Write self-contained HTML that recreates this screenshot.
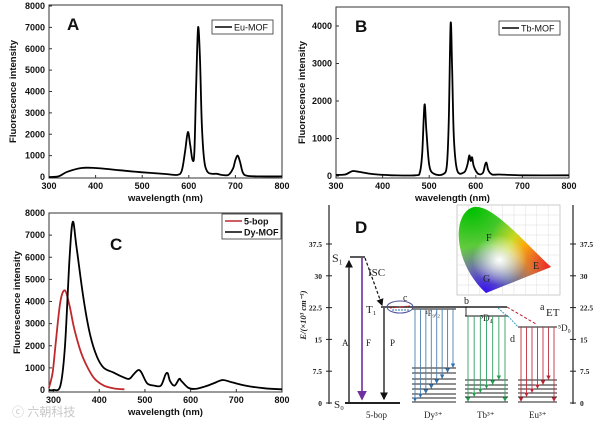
<!DOCTYPE html>
<html><head><meta charset="utf-8">
<style>
html,body{margin:0;padding:0;background:#fff;width:600px;height:423px;overflow:hidden}
svg text{font-family:"Liberation Sans",Arial,sans-serif}
.tk{font-size:9px;font-weight:bold;fill:#111}
.al{font-size:9.5px;font-weight:bold;fill:#111}
.sr{font-family:"Liberation Serif",serif !important;fill:#222}
</style></head>
<body>
<svg id="fig" width="600" height="423" viewBox="0 0 600 423" xmlns="http://www.w3.org/2000/svg">
<defs>
<radialGradient id="gG" cx="0.2" cy="0.1" r="0.6"><stop offset="0" stop-color="#00c000"/><stop offset="1" stop-color="#00c000" stop-opacity="0"/></radialGradient>
<radialGradient id="gB" cx="0.3" cy="0.95" r="0.5"><stop offset="0" stop-color="#3000ff"/><stop offset="1" stop-color="#3000ff" stop-opacity="0"/></radialGradient>
<radialGradient id="gR" cx="1" cy="0.65" r="0.5"><stop offset="0" stop-color="#ff0020"/><stop offset="1" stop-color="#ff0020" stop-opacity="0"/></radialGradient>
<radialGradient id="gY" cx="0.7" cy="0.45" r="0.35"><stop offset="0" stop-color="#ffe000"/><stop offset="1" stop-color="#ffe000" stop-opacity="0"/></radialGradient>
<radialGradient id="gW" cx="0.45" cy="0.6" r="0.25"><stop offset="0" stop-color="#fff"/><stop offset="1" stop-color="#fff" stop-opacity="0"/></radialGradient>
<clipPath id="cie"><path d="M486,293 C452,262 452,212 474,207 C492,204 522,240 551,267 Z"/></clipPath>
<marker id="ak" markerWidth="6" markerHeight="6" refX="5" refY="3" orient="auto"><path d="M0,0 L6,3 L0,6 Z" fill="#111"/></marker>
<marker id="ap" markerWidth="6" markerHeight="6" refX="5" refY="3" orient="auto"><path d="M0,0 L6,3 L0,6 Z" fill="#7030a0"/></marker>
<marker id="ab" markerWidth="5" markerHeight="5" refX="4" refY="2.5" orient="auto"><path d="M0,0 L5,2.5 L0,5 Z" fill="#3070b0"/></marker>
<marker id="ag" markerWidth="5" markerHeight="5" refX="4" refY="2.5" orient="auto"><path d="M0,0 L5,2.5 L0,5 Z" fill="#20a050"/></marker>
<marker id="ar" markerWidth="5" markerHeight="5" refX="4" refY="2.5" orient="auto"><path d="M0,0 L5,2.5 L0,5 Z" fill="#c02030"/></marker>
</defs>
<g id="panels"></g>
<g id="diagram"></g>
<text x="12" y="416" font-size="12" fill="#c8c8c8" style="font-family:'Liberation Sans','Noto Sans CJK SC',sans-serif">ⓒ 六朝科技</text>
</svg>
<script>
// ---- data ----
const euWl = [300,320,340,370,400,450,500,550,575,585,592,598,603,608,612,616,620,624,628,633,640,650,660,670,685,695,700,705,710,716,725,750,800];
const euVal = [0,30,250,420,420,320,220,140,100,300,1200,2100,1500,800,1200,4500,7000,5500,2500,800,250,150,150,100,100,400,800,1000,700,200,60,30,30];
const tbWl = [300,320,335,350,380,420,470,480,485,490,494,500,510,530,538,542,546,549,553,560,575,582,586,589,592,596,605,615,620,623,627,635,650,700,800];
const tbVal = [30,40,130,110,50,20,20,100,600,1900,1200,300,60,50,300,1500,4050,3000,1000,150,100,300,550,400,500,250,60,80,300,350,150,40,40,20,20];
const dyWl = [290,300,315,325,335,342,350,365,380,395,410,430,450,465,475,485,492,505,520,535,545,550,555,565,575,580,595,610,630,650,670,690,720,760,800];
const dyVal = [0,0,200,2000,6000,7600,6500,4200,2500,1500,1000,800,600,500,700,900,800,300,200,200,700,750,400,200,500,400,100,50,150,300,450,350,200,80,30];
const bopWl = [290,298,305,315,325,335,345,360,375,390,410,430,455];
const bopVal = [100,800,2200,4000,4500,3800,2800,1700,1000,500,200,80,30];
const xTicks = [300,400,500,600,700,800];
const yTicksA = [0,1000,2000,3000,4000,5000,6000,7000,8000];
const yTicksB = [0,1000,2000,3000,4000];
const yTicksC = [0,1000,2000,3000,4000,5000,6000,7000,8000];
const eTicks = [0,7.5,15,22.5,30,37.5];
const eTickLabels = ["0","7.5","15","22.5","30","37.5"];

const NS="http://www.w3.org/2000/svg";
function mk(tag,attrs,parent,txt){const e=document.createElementNS(NS,tag);for(const k in attrs)e.setAttribute(k,attrs[k]);if(txt!==undefined)e.textContent=txt;parent.appendChild(e);return e;}
const root=document.getElementById('panels');

function smooth(pts){
  let d='M'+pts[0][0].toFixed(1)+','+pts[0][1].toFixed(1);
  for(let i=0;i<pts.length-1;i++){
    const p0=pts[Math.max(0,i-1)],p1=pts[i],p2=pts[i+1],p3=pts[Math.min(pts.length-1,i+2)];
    const c1=[p1[0]+(p2[0]-p0[0])/6,p1[1]+(p2[1]-p0[1])/6];
    const c2=[p2[0]-(p3[0]-p1[0])/6,p2[1]-(p3[1]-p1[1])/6];
    d+=` C${c1[0].toFixed(1)},${c1[1].toFixed(1)} ${c2[0].toFixed(1)},${c2[1].toFixed(1)} ${p2[0].toFixed(1)},${p2[1].toFixed(1)}`;
  }
  return d;
}

function panel(id,box,xr,yr,yTicks,series,label,labelPos,legend){
  const g=mk('g',{},root);
  
  
  const sx=v=>box.x0+(v-xr[0])/(xr[1]-xr[0])*(box.x1-box.x0);
  const sy=v=>box.yb-(v-yr[0])/(yr[1]-yr[0])*(box.yb-box.yt);
  const fr=mk('rect',{x:box.x0,y:box.top,width:box.x1-box.x0,height:box.bot-box.top,fill:'none',stroke:'#333','stroke-width':1},g);
  
  
  xTicks.forEach(t=>{const x=sx(t);mk('line',{x1:x,x2:x,y1:box.bot,y2:box.bot-3,stroke:'#333'},g);
    const tx=mk('text',{x:x,y:box.bot+11,'text-anchor':'middle',class:'tk'},g,t);
    
    });
  yTicks.forEach(t=>{const y=sy(t);mk('line',{x1:box.x0,x2:box.x0+3,y1:y,y2:y,stroke:'#333'},g);
    const tx=mk('text',{x:box.x0-4,y:y+3,'text-anchor':'end',class:'tk'},g,t);
    
    });
  const xl=mk('text',{x:(box.x0+box.x1)/2,y:box.bot+23,'text-anchor':'middle',class:'al'},g,'wavelength (nm)');
  
  
  const yl=mk('text',{x:0,y:0,'text-anchor':'middle',class:'al',transform:`translate(${box.yl},${(box.top+box.bot)/2}) rotate(-90)`},g,'Fluorescence intensity');
  
  
  series.forEach(s=>{
    const pts=s.wl.map((w,i)=>[sx(w),sy(s.val[i])]);
    const p=mk('path',{d:smooth(pts),fill:'none',stroke:s.color,'stroke-width':1.8,'stroke-linejoin':'round'},g);
    
    
  });
  const pl=mk('text',{x:labelPos[0],y:labelPos[1],'font-size':17,'font-weight':'bold',fill:'#111'},g,label);
  
  
  const lg=mk('g',{},g);
  
  
  mk('rect',{x:legend.x,y:legend.y,width:legend.w,height:legend.items.length*11+3,fill:'#fff',stroke:'#333','stroke-width':0.8},lg);
  legend.items.forEach((it,i)=>{const y=legend.y+7+i*11;
    mk('line',{x1:legend.x+3,x2:legend.x+20,y1:y,y2:y,stroke:it.c,'stroke-width':1.6},lg);
    const t=mk('text',{x:legend.x+22,y:y+3.5,'font-size':9,fill:'#111','font-weight':it.b?'bold':'normal'},lg,it.t);
    
    });
}
panel('A',{x0:49,x1:282,top:5,bot:178,yt:6,yb:177,yl:16},[300,800],[0,8000],yTicksA,
  [{name:'eu-mof',wl:euWl,val:euVal,color:'#000'}],'A',[67,30],{x:212,y:20,w:61,items:[{c:'#000',t:'Eu-MOF'}]});
panel('B',{x0:336,x1:569,top:7,bot:178,yt:26,yb:176,yl:305},[300,800],[0,4000],yTicksB,
  [{name:'tb-mof',wl:tbWl,val:tbVal,color:'#000'}],'B',[355,32],{x:499,y:21,w:61,items:[{c:'#000',t:'Tb-MOF'}]});
panel('C',{x0:49,x1:282,top:213,bot:392,yt:213,yb:390,yl:20},[290,800],[0,8000],yTicksC,
  [{name:'5-bop',wl:bopWl,val:bopVal,color:'#c0282c'},{name:'dy-mof',wl:dyWl,val:dyVal,color:'#000'}],'C',[110,250],{x:222,y:214,w:59,items:[{c:'#c0282c',t:'5-bop',b:true},{c:'#000',t:'Dy-MOF',b:true}]});

// ---- diagram D ----
const D=document.getElementById('diagram');
const ey=e=>403-e*4.24;
const ax=mk('line',{x1:329,x2:329,y1:205,y2:404,stroke:'#222','stroke-width':1.2},D);


const ax2=mk('line',{x1:573,x2:573,y1:205,y2:404,stroke:'#222','stroke-width':1.2},D);


eTicks.forEach((t,i)=>{const y=ey(t);
  mk('line',{x1:326,x2:332,y1:y,y2:y,stroke:'#222'},D);mk('line',{x1:570,x2:576,y1:y,y2:y,stroke:'#222'},D);
  const a=mk('text',{x:322,y:y+3,'text-anchor':'end','font-size':7.5,'font-weight':'bold',class:'sr'},D,eTickLabels[i]);
  
  
  const b=mk('text',{x:580,y:y+3,'font-size':7.5,'font-weight':'bold',class:'sr'},D,eTickLabels[i]);
  
  });
const et=mk('text',{x:0,y:0,'text-anchor':'middle','font-size':8.5,'font-weight':'bold','font-style':'italic',class:'sr',transform:'translate(306,315) rotate(-90)'},D,'E/(×10³ cm⁻¹)');


const pd=mk('text',{x:355,y:233,'font-size':17,'font-weight':'bold',fill:'#111'},D,'D');


function L(x1,y1,x2,y2,c,w,extra){const e=mk('line',Object.assign({x1,y1,x2,y2,stroke:c,'stroke-width':w||1},extra||{}),D);return e;}
function T(x,y,s,fs,name){const t=mk('text',{x,y,'font-size':fs||10,class:'sr'},D,s);return t;}
// levels
L(345,403,400,403,'#222',2);L(350,257,365,257,'#222',1.5);L(381,307,507,307,'#222',1.5);
L(349,402,349,261,'#111',1.3,{'marker-end':'url(#ak)'});
L(362,258,362,399,'#7030a0',1.6,{'marker-end':'url(#ap)'});
L(365,258,382,305,'#111',1.2,{'stroke-dasharray':'3,2','marker-end':'url(#ak)'});
L(384,308,384,399,'#111',1.3,{'marker-end':'url(#ak)'});
mk('ellipse',{cx:400,cy:307,rx:13,ry:6,fill:'none',stroke:'#5050a0','stroke-width':1},D);
L(390,308,410,306,'#c02030',1,{'stroke-dasharray':'2,1'});L(392,310,410,310,'#3070b0',1,{'stroke-dasharray':'2,1'});
T(332,262,'S₁',12,'s1-label');T(334,408,'S₀',11,'s0-label');T(368,276,'ISC',11,'isc-label');T(366,313,'T₁',11,'t1-label');
T(342,346,'A',9,'a-label');T(366,346,'F',9,'f-label');T(390,346,'P',9,'p-label');T(403,301,'c',10,'c-label');
T(464,304,'b',10,'b-label');T(540,310,'a',10,'a-transfer-label');T(510,342,'d',10,'d-label');T(546,316,'ET',11,'et-label');
T(425,316,'⁴F₉/₂',8,'dy-level-label');T(480,321,'⁵D₄',9,'tb-level-label');T(558,331,'⁵D₀',9,'eu-level-label');
T(366,418,'5-bop',9,'5bop-label');T(424,418,'Dy³⁺',9,'dy-label');T(477,418,'Tb³⁺',9,'tb-label');T(529,418,'Eu³⁺',9,'eu-label');
// ion manifolds
function ion(x0,x1,topY,lows,n,col,mark){
  L(x0,topY,x1,topY,'#444',1.2);
  lows.forEach(y=>L(x0,y,x1,y,'#222',1.1));
  for(let i=0;i<n;i++){const x=x0+3+i*(x1-x0-6)/(n-1);const yEnd=lows[lows.length-1-i%lows.length];
    L(x,topY,x,yEnd-1,col,0.9,{'marker-end':`url(#${mark})`});}
}
ion(412,456,309,[368,373,379,384,389,394,398,402],8,'#4a7fb0','ab');
ion(465,508,316,[380,385,389,393,397,402],7,'#30a060','ag');
ion(518,557,327,[380,385,389,393,397,402],7,'#c03040','ar');
L(507,307,536,324,'#c02030',1,{'stroke-dasharray':'3,2'});L(508,316,518,327,'#40a0c0',1,{'stroke-dasharray':'2,1'});
L(498,308,507,316,'#40a0c0',1,{'stroke-dasharray':'2,1'});L(466,307,466,316,'#000',0.8);
// CIE inset
const ci=mk('g',{},D);
mk('rect',{x:457,y:205,width:103,height:90,fill:'#fff',stroke:'#aaa','stroke-width':0.6},ci);
for(let i=1;i<9;i++){mk('line',{x1:457+i*11.4,x2:457+i*11.4,y1:205,y2:295,stroke:'#ddd','stroke-width':0.5},ci);mk('line',{x1:457,x2:560,y1:205+i*10,y2:205+i*10,stroke:'#ddd','stroke-width':0.5},ci);}
const sh=mk('g',{'clip-path':'url(#cie)'},ci);
mk('rect',{x:450,y:200,width:110,height:100,fill:'#9ad060'},sh);
['gG','gY','gR','gB','gW'].forEach(id=>mk('rect',{x:450,y:200,width:110,height:100,fill:`url(#${id})`},sh));
T(486,241,'F',10,'cie-point-f');T(483,282,'G',10,'cie-point-g');T(533,269,'E',10,'cie-point-e');
</script>
</body></html>
